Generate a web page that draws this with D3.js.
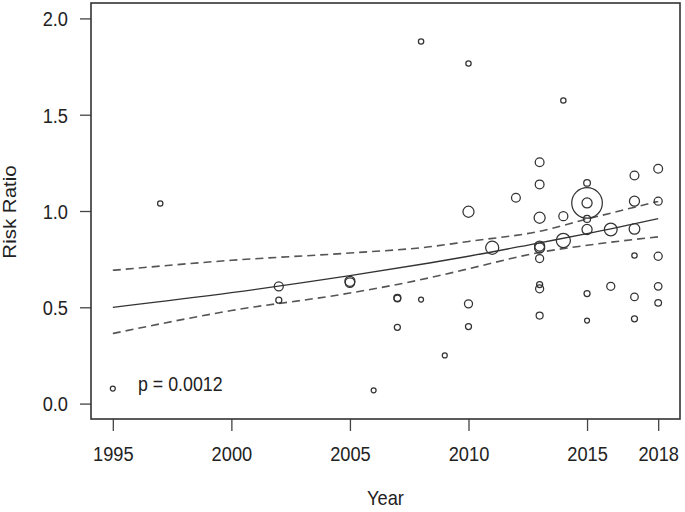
<!DOCTYPE html>
<html>
<head>
<meta charset="utf-8">
<script src="https://cdn.jsdelivr.net/npm/d3@7/dist/d3.min.js"></script>
<style>
  html, body { margin: 0; padding: 0; background: #fff; }
  svg text { font-family: "Liberation Sans", Arial, Helvetica, sans-serif; fill: #222; }
</style>
</head>
<body>
<svg id="chart" width="685" height="512"></svg>
<script>
// ---- data ----
const studyYear = [1995, 1997, 2002, 2002, 2005, 2005, 2006, 2007, 2007, 2007, 2008, 2008, 2009,
  2010, 2010, 2010, 2010, 2011, 2012,
  2013, 2013, 2013, 2013, 2013, 2013, 2013, 2013, 2013,
  2014, 2014, 2014,
  2015, 2015, 2015, 2015, 2015, 2015, 2015,
  2016, 2016,
  2017, 2017, 2017, 2017, 2017, 2017,
  2018, 2018, 2018, 2018, 2018];
const riskRatio = [0.078, 1.039, 0.609, 0.537, 0.635, 0.628, 0.069, 0.549, 0.546, 0.396, 1.88, 0.54, 0.25,
  1.766, 0.996, 0.518, 0.40, 0.809, 1.069,
  1.253, 1.138, 0.965, 0.818, 0.808, 0.753, 0.618, 0.596, 0.457,
  1.574, 0.973, 0.847,
  1.146, 1.042, 1.042, 0.959, 0.904, 0.571, 0.431,
  0.904, 0.609,
  1.184, 1.051, 0.907, 0.769, 0.554, 0.44,
  1.219, 1.051, 0.765, 0.609, 0.523];
const studyWeight = [0.6, 0.7, 2.0, 0.9, 2.5, 2.2, 0.6, 1.2, 1.1, 0.9, 0.7, 0.6, 0.6,
  0.7, 3.0, 1.6, 0.9, 4.2, 1.9,
  1.9, 1.9, 3.0, 2.5, 2.5, 1.6, 0.9, 1.6, 1.2,
  0.7, 2.0, 4.9,
  1.1, 23.0, 2.5, 1.2, 2.5, 0.9, 0.6,
  4.0, 1.6,
  1.9, 2.5, 2.8, 0.7, 1.4, 0.9,
  1.9, 1.6, 1.6, 1.4, 1.1];

// fitted meta-regression curve and 95% CI
const fitYear  = [1995, 2000, 2005, 2008.35, 2010, 2013, 2015, 2018];
const fitValue = [0.50, 0.576, 0.664, 0.73, 0.765, 0.835, 0.882, 0.96];
const ciUpper  = [0.692, 0.744, 0.782, 0.814, 0.842, 0.895, 0.958, 1.05];
const ciLower  = [0.364, 0.483, 0.574, 0.653, 0.70, 0.785, 0.822, 0.866];

const xTicks = [1995, 2000, 2005, 2010, 2015, 2018];
const yTicks = [0.0, 0.5, 1.0, 1.5, 2.0];
const pLabel = "p = 0.0012";
const xTitle = "Year";
const yTitle = "Risk Ratio";

// ---- layout ----
const svg = d3.select("#chart");
const plotL = 91, plotR = 680, plotT = 3, plotB = 419;
const sx = 0.89; // horizontal text compression seen in the reference

const x = d3.scaleLinear().domain([1994.08, 2018.92]).range([plotL, plotR]);
const y = d3.scaleLinear().domain([-0.08, 2.08]).range([plotB, plotT]);
const r = d3.scaleSqrt().domain([0, 23]).range([0, 15.3]);

// axes
const xAxis = svg.append("g")
  .attr("transform", `translate(0,${plotB})`)
  .call(d3.axisBottom(x).tickValues(xTicks).tickFormat(d3.format("d")).tickSize(12).tickPadding(0));
xAxis.select(".domain").remove();
xAxis.selectAll(".tick line").attr("stroke", "#444").attr("stroke-width", 1.3);
xAxis.selectAll(".tick text")
  .attr("font-size", 20.5)
  .attr("y", 42.5)
  .attr("dy", 0)
  .attr("x", 0)
  .attr("transform", `scale(${sx},1)`)
  .style("font-family", '"Liberation Sans", Arial, sans-serif')
  .attr("fill", "#222");

const yAxis = svg.append("g")
  .attr("transform", `translate(${plotL},0)`)
  .call(d3.axisLeft(y).tickValues(yTicks).tickFormat(d3.format(".1f")).tickSize(11).tickPadding(0));
yAxis.select(".domain").remove();
yAxis.selectAll(".tick line").attr("stroke", "#444").attr("stroke-width", 1.3);
yAxis.selectAll(".tick text")
  .attr("font-size", 20.5)
  .attr("x", -23 / sx)
  .attr("dy", "0.36em")
  .attr("transform", `scale(${sx},1)`)
  .style("font-family", '"Liberation Sans", Arial, sans-serif')
  .attr("fill", "#222");

// fitted lines
const line = d3.line().x(d => x(d[0])).y(d => y(d[1])).curve(d3.curveMonotoneX);
svg.append("path")
  .datum(fitYear.map((t, i) => [t, fitValue[i]]))
  .attr("d", line).attr("fill", "none").attr("stroke", "#333").attr("stroke-width", 1.3);
[ciUpper, ciLower].forEach(arr => {
  svg.append("path")
    .datum(fitYear.map((t, i) => [t, arr[i]]))
    .attr("d", line).attr("fill", "none").attr("stroke", "#555")
    .attr("stroke-width", 1.6).attr("stroke-dasharray", "8,5");
});

// study bubbles
svg.append("g").selectAll("circle")
  .data(studyYear.map((t, i) => ({ t, v: riskRatio[i], w: studyWeight[i] })))
  .join("circle")
  .attr("cx", d => x(d.t))
  .attr("cy", d => y(d.v))
  .attr("r", d => r(d.w))
  .attr("fill", "none")
  .attr("stroke", "#333")
  .attr("stroke-width", 1.25);

// plot box
svg.append("rect")
  .attr("x", plotL).attr("y", plotT)
  .attr("width", plotR - plotL).attr("height", plotB - plotT)
  .attr("fill", "none").attr("stroke", "#333").attr("stroke-width", 1.6);

// p-value annotation
svg.append("text")
  .attr("transform", `translate(138,390.7) scale(${sx},1)`)
  .attr("font-size", 20)
  .text(pLabel);

// axis titles
svg.append("text")
  .attr("transform", `translate(385.5,505) scale(${sx},1)`)
  .attr("text-anchor", "middle")
  .attr("font-size", 20.5)
  .text(xTitle);
svg.append("text")
  .attr("transform", `translate(16,212) rotate(-90) scale(1,${sx})`)
  .attr("text-anchor", "middle")
  .attr("font-size", 20.5)
  .text(yTitle);
</script>
</body>
</html>
